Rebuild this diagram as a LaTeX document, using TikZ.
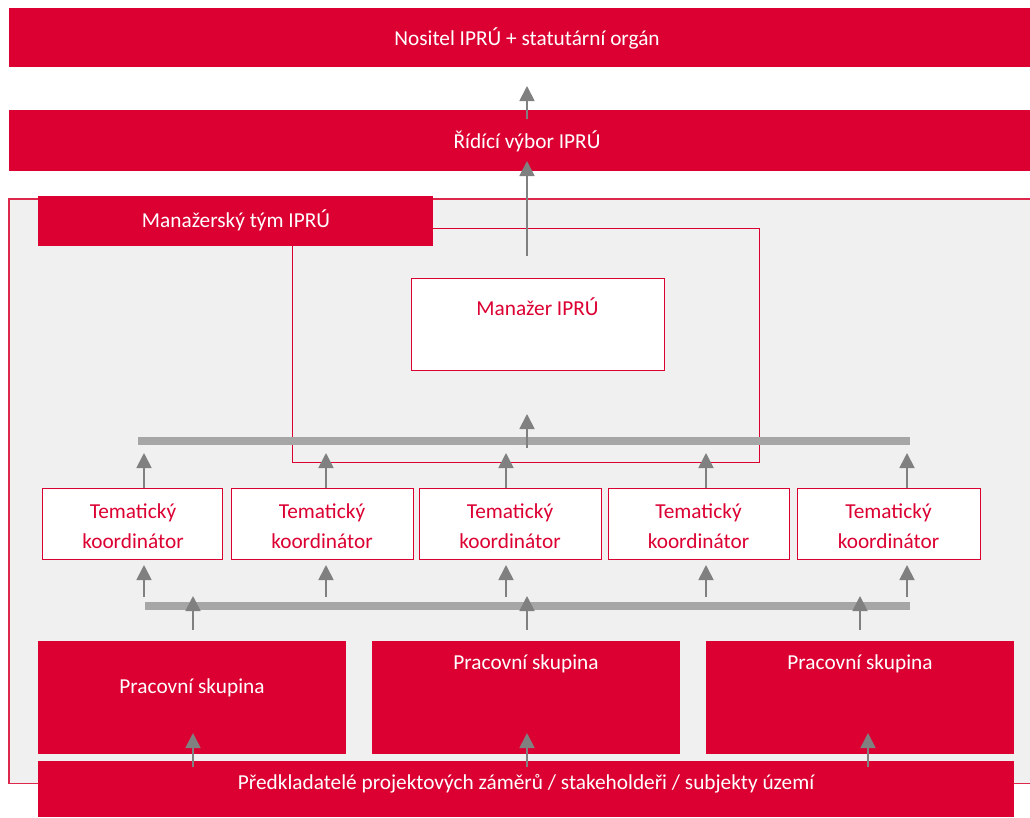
\documentclass[tikz,border=0pt]{standalone}
\usepackage{fontspec}
\setmainfont{Carlito}
\usetikzlibrary{arrows.meta}
\definecolor{ired}{RGB}{220,0,50}
\definecolor{lred}{RGB}{222,40,75}
\definecolor{bgrey}{RGB}{240,240,240}
\definecolor{bargrey}{RGB}{166,166,166}
\definecolor{arrgrey}{RGB}{128,128,128}
\begin{document}
\begin{tikzpicture}[x=1pt,y=-1pt,
  txt/.style={font=\fontsize{21.3}{30}\selectfont, inner sep=0pt},
  redbox/.style={fill=ired, draw=none, inner sep=0pt, anchor=north west},
  whitebox/.style={fill=white, draw=ired, line width=1pt, inner sep=0pt, anchor=north west},
  wlabel/.style={txt, text=white},
  rlabel/.style={txt, text=ired, align=center},
  bar/.style={draw=bargrey, line width=8pt},
  uparrow/.style={draw=arrgrey, line width=1.8pt, -{Triangle[width=15pt,length=15pt]}}
]
\useasboundingbox (0,0) rectangle (1030,817);
% top boxes
\node[redbox, minimum width=1035, minimum height=59] (nositel) at (9,8) {};
\node[wlabel] (nositelT) at (527,38) {Nositel IPRÚ + statutární orgán};
\node[redbox, minimum width=1035, minimum height=61] (ridici) at (9,110) {};
\node[wlabel] (ridiciT) at (527,141) {Řídící výbor IPRÚ};
% background
\node[fill=bgrey, draw=none, inner sep=0pt, anchor=north west, minimum width=1030, minimum height=584] (bg) at (9,199) {};
\draw[lred, line width=1.6pt] (bg.north east) -- (bg.north west) -- (bg.south west) -- (bg.south east);
% manager team outline
\draw[ired, line width=1pt] (292,228) rectangle (759,462);
\node[redbox, minimum width=395, minimum height=50] (mteam) at (38,196) {};
\node[wlabel] (mteamT) at (236,220) {Manažerský tým IPRÚ};
\node[whitebox, minimum width=253, minimum height=92] (mgr) at (411,278) {};
\node[rlabel] (mgrT) at (537.5,307) {Manažer IPRÚ};
% arrows top
\coordinate (a1s) at (527,119); \coordinate (a1e) at (527,86);
\coordinate (a2s) at (527,256); \coordinate (a2e) at (527,161);
\draw[uparrow] (a1s) -- (a1e);
\draw[uparrow] (a2s) -- (a2e);
% bars
\coordinate (b1l) at (138,441); \coordinate (b1r) at (910,441);
\draw[bar] (b1l) -- (b1r);
\coordinate (b2l) at (145,606); \coordinate (b2r) at (910,606);
\draw[bar] (b2l) -- (b2r);
\coordinate (m1s) at (527,448); \coordinate (m1e) at (527,414);
\draw[uparrow] (m1s) -- (m1e);
% tematicky boxes
\foreach \i/\xl/\xr in {1/42/222, 2/231/413, 3/419/601, 4/608/789, 5/797/980}{
  \node[whitebox, minimum width=\xr-\xl, minimum height=71] (tk\i) at (\xl,488) {};
}
\foreach \i/\xc in {1/133, 2/322, 3/510, 4/698.5, 5/888.5}{
  \node[rlabel] (tkT\i) at (\xc,526) {Tematický\\koordinátor};
}
\foreach \i/\xa in {1/144, 2/326, 3/506, 4/706, 5/907}{
  \coordinate (ua\i) at (\xa,453);
  \draw[uparrow] (tk\i.north -| ua\i) -- (ua\i);
  \coordinate (la\i) at (\xa,597);
  \coordinate (lb\i) at (\xa,565);
  \draw[uparrow] (la\i) -- (lb\i);
}
% pracovni skupiny
\node[redbox, minimum width=308, minimum height=113] (ps1) at (38,641) {};
\node[redbox, minimum width=308, minimum height=113] (ps2) at (372,641) {};
\node[redbox, minimum width=308, minimum height=113] (ps3) at (706,641) {};
\node[wlabel] (ps1T) at (192,688) {Pracovní skupina};
\node[wlabel] (ps2T) at (526,664) {Pracovní skupina};
\node[wlabel] (ps3T) at (860,664) {Pracovní skupina};
% bottom
\node[redbox, minimum width=976, minimum height=56] (pred) at (38,761) {};
\node[wlabel] (predT) at (526,784) {Předkladatelé projektových záměrů / stakeholdeři / subjekty území};
% arrows into bar from groups
\foreach \i/\xa in {1/193, 2/527, 3/860}{
  \coordinate (ga\i) at (\xa,630); \coordinate (gb\i) at (\xa,596);
  \draw[uparrow] (ga\i) -- (gb\i);
}
% arrows from bottom into groups
\foreach \i/\xa in {1/193, 2/527, 3/868}{
  \coordinate (ha\i) at (\xa,767); \coordinate (hb\i) at (\xa,733);
  \draw[uparrow] (ha\i) -- (hb\i);
}
\end{tikzpicture}
\end{document}
